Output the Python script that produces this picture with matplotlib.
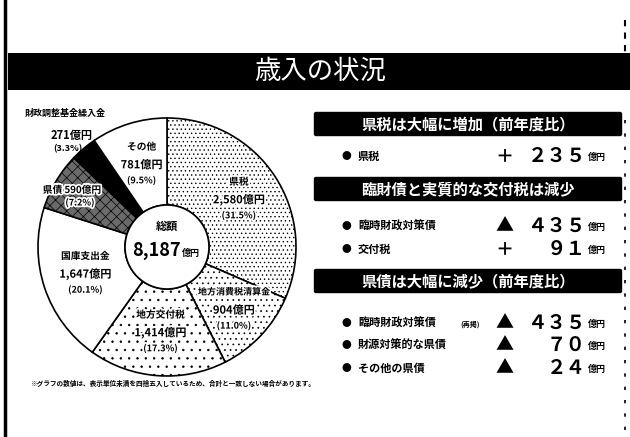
"""歳入の状況: donut of revenue breakdown with side notes."""

import numpy as np
import matplotlib

matplotlib.use("Agg")
import matplotlib.pyplot as plt
import matplotlib.patheffects as pe
from matplotlib.patches import Rectangle, FancyBboxPatch

plt.rcParams["font.family"] = ["Noto Sans CJK JP", "DejaVu Sans"]
plt.rcParams["hatch.linewidth"] = 0.5

# ---- data ----
labels = ["県税", "地方消費税清算金", "地方交付税", "国庫支出金", "県債", "財政調整基金繰入金", "その他"]
values = [2580, 904, 1414, 1647, 590, 271, 781]
total = 8187

banners = ["県税は大幅に増加（前年度比）", "臨財債と実質的な交付税は減少", "県債は大幅に減少（前年度比）"]
item_names = ["県税", "臨時財政対策債", "交付税", "臨時財政対策債", "財源対策的な県債", "その他の県債"]
item_notes = ["", "", "", "(再掲)", "", ""]
item_signs = ["＋", "▲", "＋", "▲", "▲", "▲"]
item_values = ["２３５", "４３５", "９１", "４３５", "７０", "２４"]

W, H = 630, 437
fig = plt.figure(figsize=(W / 100, H / 100), dpi=100)
ax = fig.add_axes([0, 0, 1, 1])


def Y(y):
    return H - y


# ---- donut ----
cx, cy, R, r_in = 167, Y(247), 129, 42
faces = ["white", "white", "white", "white", "#6a6a6a", "black", "white"]
hatches = ["....", "...", "..", "", "xxx", "", ""]
wedges, _ = ax.pie(values, center=(cx, cy), radius=R, startangle=90, counterclock=False,
                   colors=faces, hatch=hatches,
                   wedgeprops=dict(width=R - r_in, edgecolor="black", linewidth=1.2))
ax.add_patch(plt.Circle((cx, cy), r_in, facecolor="white", edgecolor="black", lw=1.2, zorder=3))

ax.set_xlim(0, W)
ax.set_ylim(0, H)
ax.set_aspect("auto")
ax.axis("off")

bold = dict(fontweight="bold", ha="center", va="center")
halo = [pe.withStroke(linewidth=2.5, foreground="white")]
cum = np.cumsum([0] + values[:-1])
for i, (lab, v) in enumerate(zip(labels, values)):
    if i in (4, 5):
        continue
    ang = np.deg2rad(90 - (cum[i] + v / 2) / sum(values) * 360)
    rr = 92 if i == 1 else 86
    x, y = cx + rr * np.cos(ang), cy + rr * np.sin(ang)
    ax.text(x, y + 18, lab, fontsize=6.5 if i == 1 else 7, path_effects=halo, **bold)
    ax.text(x, y, f"{v:,}億円", fontsize=8, path_effects=halo, **bold)
    ax.text(x, y - 16, f"({v / total * 100:.1f}%)", fontsize=6.5, path_effects=halo, **bold)

# 県債 (inside the grey wedge, label to the left)
ax.text(72, Y(190), f"{labels[4]} {values[4]}億円", fontsize=7, path_effects=halo, **bold)
ax.text(80, Y(203), f"({values[4] / total * 100:.1f}%)", fontsize=6.5, path_effects=halo, **bold)
# 財政調整基金繰入金 (outside)
ax.text(65, Y(113), labels[5], fontsize=6.5, **bold)
ax.text(72, Y(135), f"{values[5]}億円", fontsize=8, **bold)
ax.text(68, Y(149), f"({values[5] / total * 100:.1f}%)", fontsize=6.5, **bold)
ax.plot([82, 92], [Y(152), Y(158)], color="black", lw=0.8)

ax.text(cx, Y(226), "総額", fontsize=8, zorder=4, **bold)
ax.text(cx + 14, Y(251), f"{total:,}", fontsize=13, zorder=4, fontweight="bold", ha="right", va="center")
ax.text(cx + 15, Y(253), "億円", fontsize=6.5, zorder=4, fontweight="bold", ha="left", va="center")

ax.text(30, Y(383), "※グラフの数値は、表示単位未満を四捨五入しているため、合計と一致しない場合があります。",
        fontsize=4.8, fontweight="bold", ha="left", va="center")

# ---- title bar ----
ax.add_patch(Rectangle((8, Y(90)), W - 8, 37, facecolor="black", edgecolor="none"))
ax.text(320, Y(71), "歳入の状況", color="white", fontsize=19, ha="center", va="center")
ax.plot([5, 5], [0, H], color="black", lw=2.5)
ax.plot([625, 625], [Y(20), Y(60)], color="black", lw=1.5, ls=(0, (3, 3)))
ax.plot([625, 625], [Y(120), Y(437)], color="black", lw=1.2, ls=(0, (2, 6)))

# ---- right side ----
banner_y = [124, 189, 281]
for txt, by in zip(banners, banner_y):
    ax.add_patch(FancyBboxPatch((316, Y(by) - 10), 304, 20, boxstyle="round,pad=1.5",
                                facecolor="black", edgecolor="black"))
    ax.text(468, Y(by), txt, color="white", fontsize=11, fontweight="bold", ha="center", va="center")

item_y = [156, 226, 249, 323, 345, 368]
for name, note, sign, val, iy in zip(item_names, item_notes, item_signs, item_values, item_y):
    ax.text(346, Y(iy), "●", fontsize=7, ha="center", va="center")
    ax.text(358, Y(iy), name, fontsize=8, fontweight="bold", ha="left", va="center")
    if note:
        ax.text(460, Y(iy) - 1, note, fontsize=5, fontweight="bold", ha="left", va="center")
    ax.text(504, Y(iy), sign, fontsize=13, fontweight="bold", ha="center", va="center")
    ax.text(586, Y(iy), val, fontsize=14, fontweight="bold", ha="right", va="center")
    ax.text(588, Y(iy) - 1, "億円", fontsize=6.5, fontweight="bold", ha="left", va="center")

fig.savefig("out.png", dpi=100)
